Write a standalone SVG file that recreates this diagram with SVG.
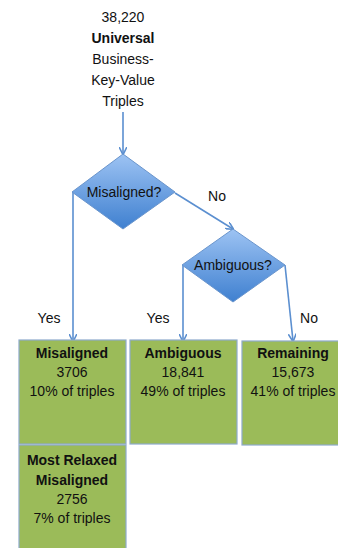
<svg xmlns="http://www.w3.org/2000/svg" width="338" height="548" viewBox="0 0 338 548">
<style>
text{font-family:"Liberation Sans",Arial,sans-serif;font-size:14px;fill:#111;text-anchor:middle}
.b{font-weight:bold}
.box{fill:#9BBB59;stroke:#8EAACC;stroke-width:1.2}
.dia{fill:url(#g);stroke:#6A95CC;stroke-width:1}
.c{stroke:#5B8FD0;stroke-width:1.6;fill:none;marker-end:url(#a)}
</style>
<defs>
<linearGradient id="g" x1="0" y1="0" x2="0" y2="1">
<stop offset="0" stop-color="#9DC3F3"/>
<stop offset="1" stop-color="#3F80D0"/>
</linearGradient>
<marker id="a" viewBox="0 0 10 10" refX="9" refY="5" markerWidth="5" markerHeight="5" orient="auto">
<path d="M0,0 L10,5 L0,10" fill="none" stroke="#5B8FD0" stroke-width="2"/>
</marker>
</defs>
<g id="start">
<text x="123" y="22">38,220</text>
<text x="123" y="43" class="b">Universal</text>
<text x="123" y="64">Business-</text>
<text x="123" y="85">Key-Value</text>
<text x="123" y="106">Triples</text>
</g>
<g id="connectors">
<line class="c" x1="123" y1="112" x2="123" y2="154"/>
<polyline class="c" points="73,192 73,341"/>
<line class="c" x1="175" y1="193" x2="233" y2="229"/>
<polyline class="c" points="183,265 183,341"/>
<line class="c" x1="285" y1="265" x2="293" y2="341"/>
<text x="217" y="201">No</text>
<text x="49" y="323">Yes</text>
<text x="158" y="323">Yes</text>
<text x="309" y="323">No</text>
</g>
<g id="d1">
<polygon class="dia" points="123,154 175,192 123,229 72,192"/>
<text x="124" y="197">Misaligned?</text>
</g>
<g id="d2">
<polygon class="dia" points="233,229 285,265 233,302 182,265"/>
<text x="233" y="270">Ambiguous?</text>
</g>
<g id="misaligned">
<rect class="box" x="19" y="340" width="107" height="104"/>
<text x="72" y="358" class="b">Misaligned</text>
<text x="72" y="377">3706</text>
<text x="72" y="396">10% of triples</text>
</g>
<g id="ambiguous">
<rect class="box" x="130" y="340" width="107" height="104"/>
<text x="183" y="358" class="b">Ambiguous</text>
<text x="183" y="377">18,841</text>
<text x="183" y="396">49% of triples</text>
</g>
<g id="remaining">
<rect class="box" x="242" y="341" width="104" height="104"/>
<text x="293" y="358" class="b">Remaining</text>
<text x="293" y="377">15,673</text>
<text x="293" y="396">41% of triples</text>
</g>
<g id="relaxed">
<rect class="box" x="19" y="445" width="107" height="110"/>
<text x="72" y="465" class="b">Most Relaxed</text>
<text x="72" y="485" class="b">Misaligned</text>
<text x="72" y="504">2756</text>
<text x="72" y="523">7% of triples</text>
</g>
</svg>
